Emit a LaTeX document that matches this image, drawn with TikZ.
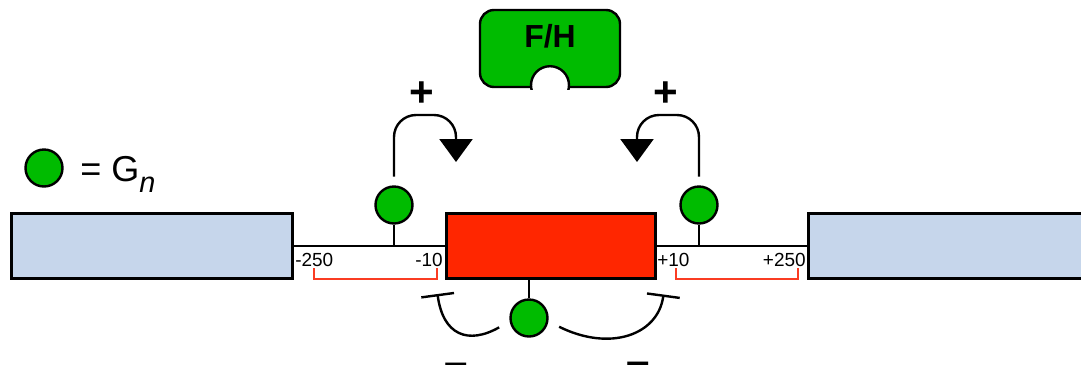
\documentclass[tikz,border=0pt]{standalone}
\usepackage{fontspec}
\setmainfont{Liberation Sans}
\usetikzlibrary{arrows.meta}

\definecolor{gngreen}{RGB}{0,187,0}
\definecolor{corered}{RGB}{255,38,0}
\definecolor{flank}{RGB}{198,214,235}
\definecolor{span}{RGB}{250,60,35}

\tikzset{
  gn/.style={circle,draw,line width=0.6mm,fill=gngreen,minimum size=9.25mm,inner sep=0pt},
  seg/.style={draw,line width=0.75mm,minimum height=16.25mm,inner sep=0pt},
  act/.style={line width=0.6mm,rounded corners=5.5mm,-{Triangle[width=8.25mm,length=5.75mm]}},
  rep/.style={line width=0.6mm,-{Bar[width=8.25mm]}},
  sign/.style={font=\fontsize{30}{34}\selectfont\bfseries,inner sep=0pt},
  num/.style={font=\fontsize{13.5}{16}\selectfont,inner sep=0pt},
}

\begin{document}
\begin{tikzpicture}[x=0.25mm,y=-0.25mm]
\useasboundingbox (0,0) rectangle (1081,364);
\clip (0,0) rectangle (1081,364);

% legend
\node[gn] (lg) at (44,168) {};
\node[font=\fontsize{25.6}{30}\selectfont,inner sep=0pt,anchor=base west] (lgtext) at (80,181)
  {= G\raisebox{-2.75mm}{\fontsize{20.5}{24}\selectfont\itshape n}};

% F/H
\node[draw,fill=gngreen,line width=0.6mm,rounded corners=3.5mm,minimum width=35mm,minimum height=19.25mm] (fh) at (550,48.5) {};
\begin{scope}
  \clip ([yshift=-0.35mm]fh.south west) rectangle (fh.north east);
  \node[circle,draw,fill=white,line width=0.6mm,minimum size=9.5mm,inner sep=0pt] (notch) at ([yshift=0.75mm]fh.south) {};
\end{scope}
\node[font=\fontsize{22.7}{26}\selectfont\bfseries,inner sep=0pt] (fhtext) at (550,36.5) {F/H};

% flanks and core
\node[seg,fill=flank,minimum width=70mm] (lflank) at (152,245.5) {};
\node[seg,fill=flank,minimum width=71.75mm] (rflank) at (951.5,245.5) {};
\node[seg,fill=corered,minimum width=52.25mm] (core) at (550.5,245.5) {};
\draw[line width=0.5mm] (lflank) -- (core) (core) -- (rflank);

\node[num,anchor=west] (m250) at (295,260) {-250};
\node[num,anchor=east] (m10) at (443,260) {-10};
\node[num,anchor=west] (p10) at (657,260) {+10};
\node[num,anchor=east] (p250) at (806,260) {+250};
\draw[span,line width=0.5mm] (314,268) -- (314,279) -- (437,279) -- (437,268);
\draw[span,line width=0.5mm] (676,268) -- (676,279) -- (798,279) -- (798,268);

% sites
\node[gn] (gl) at (394,205) {};
\node[gn] (gr) at (699,205) {};
\node[gn] (gb) at (529,318) {};
\draw[line width=0.6mm] (gl) -- (gl |- core.west);
\draw[line width=0.6mm] (gr) -- (gr |- core.east);
\draw[line width=0.6mm] (gb) -- (gb |- core.south);

% activation
\coordinate (ltop) at (0,115);
\coordinate (ltip) at (456,162);
\coordinate (rtip) at (637,162);
\draw[act,shorten <=2.2mm] (gl.north) -- (gl.north |- ltop) -| (ltip);
\draw[act,shorten <=2.2mm] (gr.north) -- (gr.north |- ltop) -| (rtip);
\node[sign] (lplus) at (422,94) {+};
\node[sign] (rplus) at (666,94) {+};

% repression
\coordinate (lbar) at (437.5,294);
\coordinate (rbar) at (663.5,294.5);
\draw[rep,shorten <=3mm] (gb.190) .. controls (468,345) and (443,335) .. (lbar);
\draw[rep,shorten <=3mm] (gb.-10) .. controls (610,352) and (658,335) .. (rbar);
\node[sign,anchor=base] (lminus) at (456,376) {–};
\node[sign,anchor=base] (rminus) at (638,375.5) {–};
\end{tikzpicture}
\end{document}
